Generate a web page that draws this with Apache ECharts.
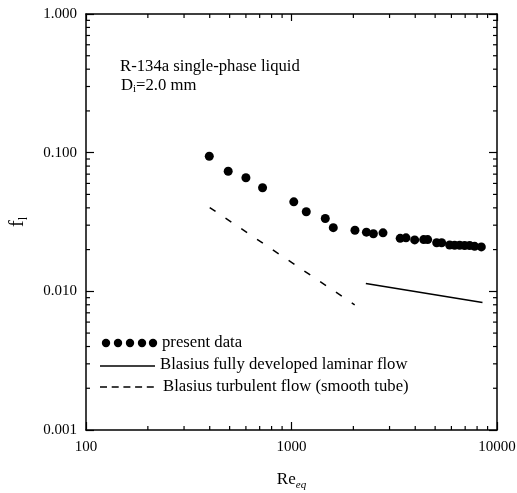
<!DOCTYPE html>
<html>
<head>
<meta charset="utf-8">
<script src="https://cdn.jsdelivr.net/npm/echarts@6/dist/echarts.min.js"></script>
<style>html,body{margin:0;padding:0;background:#fff}#c{width:517px;height:493px}</style>
</head>
<body>
<div id="c"></div>
<script>
// ---- data ----
const reData = [398, 492, 600, 723, 1026, 1180, 1460, 1597, 2036, 2315, 2503, 2788, 3380, 3607, 3976, 4398, 4598, 5087, 5379, 5883, 6220, 6579, 6958, 7358, 7782, 8390];
const fData  = [0.0943, 0.0735, 0.0659, 0.0558, 0.0442, 0.0375, 0.0335, 0.0288, 0.0276, 0.0267, 0.0260, 0.0264, 0.0241, 0.0243, 0.0235, 0.0236, 0.0236, 0.0224, 0.0224, 0.0216, 0.0215, 0.0215, 0.0214, 0.0214, 0.0211, 0.0209];
const lamRe = [2300, 8500];
const lamF  = [0.0114, 0.0083];
const turbRe = [400, 2030];
const turbF  = [0.0402, 0.0080];
const xTickValues = [100, 1000, 10000];
const xTickLabels = ['100', '1000', '10000'];
const yTickValues = [0.001, 0.01, 0.1, 1];
const yTickLabels = ['0.001', '0.010', '0.100', '1.000'];
const xMinor = [200, 300, 400, 500, 600, 700, 800, 900, 2000, 3000, 4000, 5000, 6000, 7000, 8000, 9000];
const yMinor = [0.002, 0.003, 0.004, 0.005, 0.006, 0.007, 0.008, 0.009, 0.02, 0.03, 0.04, 0.05, 0.06, 0.07, 0.08, 0.09, 0.2, 0.3, 0.4, 0.5, 0.6, 0.7, 0.8, 0.9];
const xMin = 100, xMax = 10000, yMin = 0.001, yMax = 1;

const FONT = 'Liberation Serif';
function labelOf(values, labels) {
  return function (v) {
    for (let i = 0; i < values.length; i++) {
      if (Math.abs(Math.log10(v) - Math.log10(values[i])) < 1e-6) return labels[i];
    }
    return '';
  };
}

const chart = echarts.init(document.getElementById('c'), null, {renderer: 'canvas'});
const axisLine = {show: true, lineStyle: {color: '#000', width: 1.5}};
const tickStyle = {color: '#000', width: 1.2};
const TXT = 16.7;

const option = {
  animation: false,
  backgroundColor: '#fff',
  grid: {left: 86, right: 20, top: 14, bottom: 63, containLabel: false, outerBoundsMode: 'none'},
  xAxis: [
    {
      type: 'log', logBase: 10, min: xMin, max: xMax,
      axisLine: axisLine,
      axisTick: {show: true, inside: true, length: 8, lineStyle: tickStyle},
      splitLine: {show: false},
      axisLabel: {show: true, margin: 10, color: '#000', fontFamily: FONT, fontSize: 15,
        formatter: labelOf(xTickValues, xTickLabels)},
      name: '{a|Re}{b|eq}', nameLocation: 'middle', nameGap: 39,
      nameTextStyle: {rich: {
        a: {fontFamily: FONT, fontSize: 17, color: '#000', lineHeight: 22},
        b: {fontFamily: FONT, fontSize: 11, fontStyle: 'italic', color: '#000', lineHeight: 9, verticalAlign: 'bottom'}
      }}
    },
    {
      type: 'log', logBase: 10, min: xMin, max: xMax, position: 'top',
      axisLine: axisLine,
      axisTick: {show: true, inside: true, length: 7, lineStyle: tickStyle},
      splitLine: {show: false}, axisLabel: {show: false}
    }
  ],
  yAxis: [
    {
      type: 'log', logBase: 10, min: yMin, max: yMax,
      axisLine: axisLine,
      axisTick: {show: true, inside: true, length: 8, lineStyle: tickStyle},
      splitLine: {show: false},
      axisLabel: {show: true, margin: 9, color: '#000', fontFamily: FONT, fontSize: 15,
        formatter: labelOf(yTickValues, yTickLabels)},
      name: '{a|f}{b|l}', nameLocation: 'middle', nameGap: 56, nameRotate: 90,
      nameTextStyle: {rich: {
        a: {fontFamily: FONT, fontSize: 20, color: '#000', lineHeight: 24},
        b: {fontFamily: FONT, fontSize: 12, color: '#000', lineHeight: 9, verticalAlign: 'bottom'}
      }}
    },
    {
      type: 'log', logBase: 10, min: yMin, max: yMax, position: 'right',
      axisLine: axisLine,
      axisTick: {show: true, inside: true, length: 8, lineStyle: tickStyle},
      splitLine: {show: false}, axisLabel: {show: false}
    }
  ],
  series: [
    {
      type: 'custom', xAxisIndex: 0, yAxisIndex: 0, silent: true,
      data: xMinor.map(v => [v, yMin]),
      renderItem: function (params, api) {
        const v = api.value(0);
        const pb = api.coord([v, yMin]);
        const pt = api.coord([v, yMax]);
        return {type: 'group', children: [
          {type: 'line', shape: {x1: pb[0], y1: pb[1], x2: pb[0], y2: pb[1] - 4}, style: {stroke: '#000', lineWidth: 1.2}},
          {type: 'line', shape: {x1: pt[0], y1: pt[1], x2: pt[0], y2: pt[1] + 4}, style: {stroke: '#000', lineWidth: 1.2}}
        ]};
      }
    },
    {
      type: 'custom', xAxisIndex: 0, yAxisIndex: 0, silent: true,
      data: yMinor.map(v => [xMin, v]),
      renderItem: function (params, api) {
        const v = api.value(1);
        const pl = api.coord([xMin, v]);
        const pr = api.coord([xMax, v]);
        return {type: 'group', children: [
          {type: 'line', shape: {x1: pl[0], y1: pl[1], x2: pl[0] + 4, y2: pl[1]}, style: {stroke: '#000', lineWidth: 1.2}},
          {type: 'line', shape: {x1: pr[0], y1: pr[1], x2: pr[0] - 4, y2: pr[1]}, style: {stroke: '#000', lineWidth: 1.2}}
        ]};
      }
    },
    {
      name: 'present data', type: 'scatter', symbol: 'circle', symbolSize: 9,
      itemStyle: {color: '#000', opacity: 1},
      data: reData.map((x, i) => [x, fData[i]])
    },
    {
      name: 'Blasius fully developed laminar flow', type: 'line', symbol: 'none',
      lineStyle: {color: '#000', width: 1.6, type: 'solid'},
      data: lamRe.map((x, i) => [x, lamF[i]])
    },
    {
      name: 'Blasius turbulent flow (smooth tube)', type: 'line', symbol: 'none',
      lineStyle: {color: '#000', width: 1.5, type: [7, 12]},
      data: turbRe.map((x, i) => [x, turbF[i]])
    }
  ],
  graphic: [
    {type: 'text', left: 120, top: 58, style: {text: 'R-134a single-phase liquid', fontFamily: FONT, fontSize: TXT, fill: '#000'}},
    {type: 'text', left: 121, top: 77, style: {
      text: '{a|D}{b|i}{a|=2.0 mm}',
      rich: {
        a: {fontFamily: FONT, fontSize: TXT, fill: '#000', lineHeight: 19},
        b: {fontFamily: FONT, fontSize: 11, fill: '#000', lineHeight: 7, verticalAlign: 'bottom'}
      }
    }},
    // legend
    {type: 'circle', shape: {cx: 106, cy: 343, r: 4.2}, style: {fill: '#000'}},
    {type: 'circle', shape: {cx: 118, cy: 343, r: 4.2}, style: {fill: '#000'}},
    {type: 'circle', shape: {cx: 130, cy: 343, r: 4.2}, style: {fill: '#000'}},
    {type: 'circle', shape: {cx: 142, cy: 343, r: 4.2}, style: {fill: '#000'}},
    {type: 'circle', shape: {cx: 153, cy: 343, r: 4.2}, style: {fill: '#000'}},
    {type: 'text', x: 162, y: 343, style: {text: 'present data', fontFamily: FONT, fontSize: TXT, fill: '#000', verticalAlign: 'middle'}},
    {type: 'line', shape: {x1: 100, y1: 366, x2: 155, y2: 366}, style: {stroke: '#000', lineWidth: 1.6}},
    {type: 'text', x: 160, y: 365, style: {text: 'Blasius fully developed laminar flow', fontFamily: FONT, fontSize: TXT, fill: '#000', verticalAlign: 'middle'}},
    {type: 'line', shape: {x1: 100, y1: 387, x2: 155, y2: 387}, style: {stroke: '#000', lineWidth: 1.5, lineDash: [7, 4.7]}},
    {type: 'text', x: 163, y: 387, style: {text: 'Blasius turbulent flow (smooth tube)', fontFamily: FONT, fontSize: TXT, fill: '#000', verticalAlign: 'middle'}}
  ]
};
chart.setOption(option);
</script>
</body>
</html>
